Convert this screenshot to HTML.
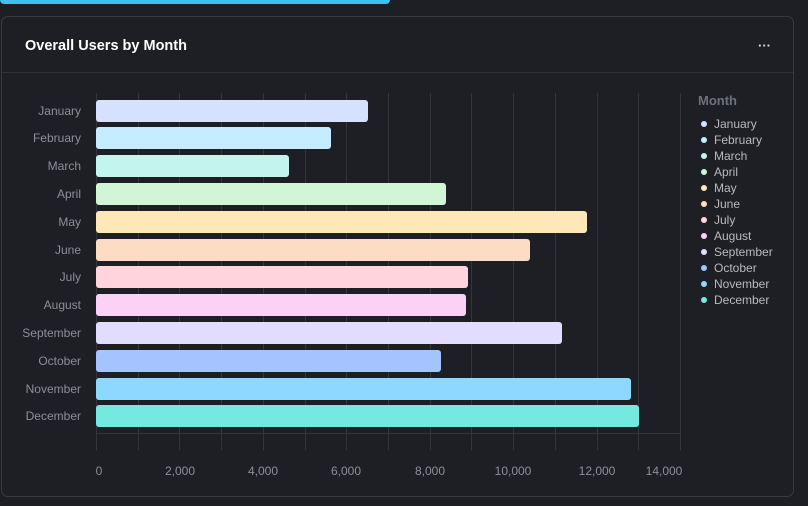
<!DOCTYPE html>
<html><head><meta charset="utf-8"><style>
html,body{margin:0;padding:0;background:#1e1f24;width:808px;height:506px;overflow:hidden;font-family:"Liberation Sans",sans-serif}
.top{position:absolute;left:0;top:-4px;width:390px;height:8px;background:#3cc1f2;border-radius:4px}
.card{position:absolute;left:1px;top:16px;width:793px;height:481px;border:1px solid #393a40;border-radius:7px;box-sizing:border-box}
.title{position:absolute;left:25px;top:38px;color:#fff;font-weight:bold;font-size:14.5px}
.dots{position:absolute;left:758px;top:38px;color:#ddd;font-size:13px;font-weight:bold;letter-spacing:0}
.hr{position:absolute;left:2px;top:72px;width:791px;height:1px;background:#303137}
</style></head><body>
<div class="top"></div>
<div class="card"></div>
<div class="title">Overall Users by Month</div>
<div class="dots">···</div>
<div class="hr"></div>
<svg width="808" height="506" style="position:absolute;left:0;top:0" font-family="Liberation Sans, sans-serif">
<g stroke="#34353b" stroke-width="1">
<line x1="96.5" y1="93" x2="96.5" y2="450"/><line x1="138.5" y1="93" x2="138.5" y2="450"/><line x1="179.5" y1="93" x2="179.5" y2="450"/><line x1="221.5" y1="93" x2="221.5" y2="450"/><line x1="263.5" y1="93" x2="263.5" y2="450"/><line x1="305.5" y1="93" x2="305.5" y2="450"/><line x1="346.5" y1="93" x2="346.5" y2="450"/><line x1="388.5" y1="93" x2="388.5" y2="450"/><line x1="430.5" y1="93" x2="430.5" y2="450"/><line x1="471.5" y1="93" x2="471.5" y2="450"/><line x1="513.5" y1="93" x2="513.5" y2="450"/><line x1="555.5" y1="93" x2="555.5" y2="450"/><line x1="597.5" y1="93" x2="597.5" y2="450"/><line x1="638.5" y1="93" x2="638.5" y2="450"/><line x1="680.5" y1="93" x2="680.5" y2="450"/>
<line x1="96" y1="433.5" x2="680" y2="433.5"/>
</g>
<g>
<rect x="96" y="100" width="272" height="22" rx="3" fill="#d6e0ff"/>
<rect x="96" y="127" width="235" height="22" rx="3" fill="#c6ecff"/>
<rect x="96" y="155" width="193" height="22" rx="3" fill="#c4f5ec"/>
<rect x="96" y="183" width="350" height="22" rx="3" fill="#d1f6d5"/>
<rect x="96" y="211" width="491" height="22" rx="3" fill="#ffe8b8"/>
<rect x="96" y="239" width="434" height="22" rx="3" fill="#fddcc6"/>
<rect x="96" y="266" width="372" height="22" rx="3" fill="#ffd4dc"/>
<rect x="96" y="294" width="370" height="22" rx="3" fill="#fbd2f5"/>
<rect x="96" y="322" width="466" height="22" rx="3" fill="#e2dcff"/>
<rect x="96" y="350" width="345" height="22" rx="3" fill="#a3c4ff"/>
<rect x="96" y="378" width="535" height="22" rx="3" fill="#8cd8ff"/>
<rect x="96" y="405" width="543" height="22" rx="3" fill="#74e9e0"/>
</g>
<g fill="#8d8f96" font-size="12" text-anchor="end">
<text x="81" y="115">January</text><text x="81" y="142">February</text><text x="81" y="170">March</text><text x="81" y="198">April</text><text x="81" y="226">May</text><text x="81" y="254">June</text><text x="81" y="281">July</text><text x="81" y="309">August</text><text x="81" y="337">September</text><text x="81" y="365">October</text><text x="81" y="393">November</text><text x="81" y="420">December</text>
</g>
<g fill="#8d8f96" font-size="12" text-anchor="middle">
<text x="99" y="475">0</text><text x="180" y="475">2,000</text><text x="263" y="475">4,000</text><text x="346" y="475">6,000</text><text x="430" y="475">8,000</text><text x="513" y="475">10,000</text><text x="597" y="475">12,000</text><text x="664" y="475">14,000</text>
</g>
<text x="698" y="105" fill="#6f7178" font-size="13" font-weight="bold">Month</text>
<g font-size="12" fill="#b8bac0">
<circle cx="704" cy="124" r="3" fill="#d6e0ff"/><text x="714" y="128">January</text>
<circle cx="704" cy="140" r="3" fill="#c6ecff"/><text x="714" y="144">February</text>
<circle cx="704" cy="156" r="3" fill="#c4f5ec"/><text x="714" y="160">March</text>
<circle cx="704" cy="172" r="3" fill="#d1f6d5"/><text x="714" y="176">April</text>
<circle cx="704" cy="188" r="3" fill="#ffe8b8"/><text x="714" y="192">May</text>
<circle cx="704" cy="204" r="3" fill="#fddcc6"/><text x="714" y="208">June</text>
<circle cx="704" cy="220" r="3" fill="#ffd4dc"/><text x="714" y="224">July</text>
<circle cx="704" cy="236" r="3" fill="#fbd2f5"/><text x="714" y="240">August</text>
<circle cx="704" cy="252" r="3" fill="#e2dcff"/><text x="714" y="256">September</text>
<circle cx="704" cy="268" r="3" fill="#a3c4ff"/><text x="714" y="272">October</text>
<circle cx="704" cy="284" r="3" fill="#8cd8ff"/><text x="714" y="288">November</text>
<circle cx="704" cy="300" r="3" fill="#74e9e0"/><text x="714" y="304">December</text>
</g>
</svg>
</body></html>
